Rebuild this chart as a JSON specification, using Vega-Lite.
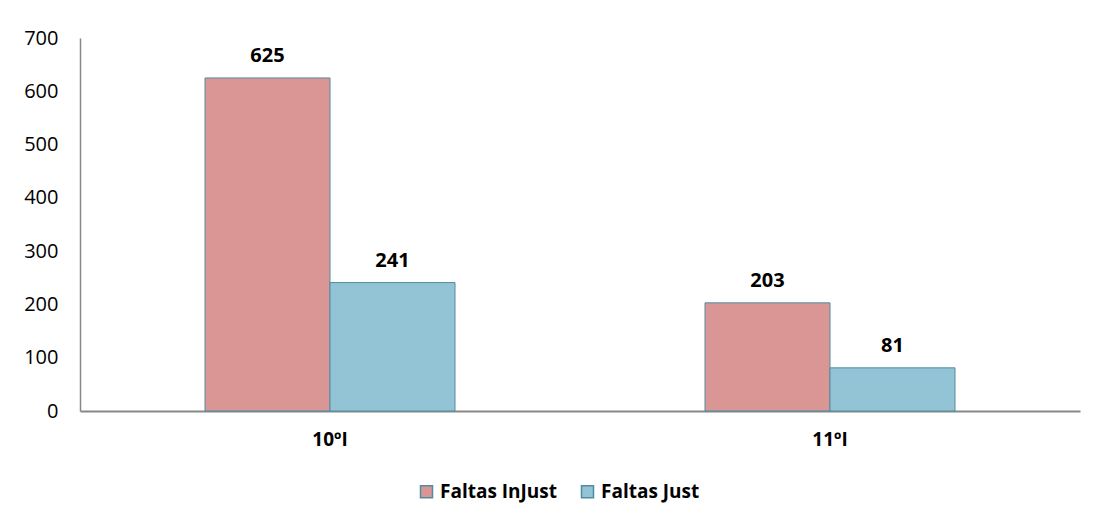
{
  "$schema": "https://vega.github.io/schema/vega-lite/v6.json",
  "autosize": {"type": "none"},
  "padding": {"left": 80, "top": 38, "right": 16, "bottom": 109},
  "width": 1000,
  "height": 373,
  "background": "white",
  "config": {
    "view": {"stroke": null},
    "font": "Open Sans"
  },
  "data": {
    "values": [
      {"clase": "10ºI", "tipo": "Faltas InJust", "valor": 625},
      {"clase": "10ºI", "tipo": "Faltas Just", "valor": 241},
      {"clase": "11ºI", "tipo": "Faltas InJust", "valor": 203},
      {"clase": "11ºI", "tipo": "Faltas Just", "valor": 81}
    ]
  },
  "encoding": {
    "x": {
      "field": "clase", "type": "nominal", "title": null,
      "scale": {"paddingInner": 0.5, "paddingOuter": 0.25},
      "axis": {
        "labelAngle": 0, "labelFontWeight": "bold", "labelFontSize": 19,
        "labelColor": "black", "ticks": false, "labelPadding": 19,
        "domainColor": "#888888", "domainWidth": 2
      }
    },
    "xOffset": {"field": "tipo", "type": "nominal"},
    "y": {
      "field": "valor", "type": "quantitative", "title": null,
      "scale": {"domain": [0, 700]},
      "axis": {
        "values": [0, 100, 200, 300, 400, 500, 600, 700],
        "grid": false, "ticks": false, "labelFontSize": 20,
        "labelColor": "black", "labelPadding": 22,
        "domainColor": "#888888", "domainWidth": 1.5
      }
    }
  },
  "layer": [
    {
      "mark": {"type": "bar", "stroke": "#4F8CA0", "strokeWidth": 1},
      "encoding": {
        "color": {
          "field": "tipo", "type": "nominal",
          "scale": {"domain": ["Faltas InJust", "Faltas Just"], "range": ["#D99694", "#93C4D5"]},
          "legend": {
            "title": null, "orient": "none", "direction": "horizontal",
            "legendX": 337, "legendY": 444,
            "symbolType": "square", "symbolSize": 144,
            "symbolStrokeColor": "#4F8CA0", "symbolStrokeWidth": 1.5,
            "labelFontSize": 19, "labelFontWeight": "bold", "labelColor": "black",
            "columnPadding": 20, "labelOffset": 4
          }
        }
      }
    },
    {
      "mark": {"type": "text", "baseline": "bottom", "dy": -12, "fontSize": 20, "fontWeight": "bold", "color": "black"},
      "encoding": {"text": {"field": "valor", "type": "quantitative"}}
    }
  ]
}
